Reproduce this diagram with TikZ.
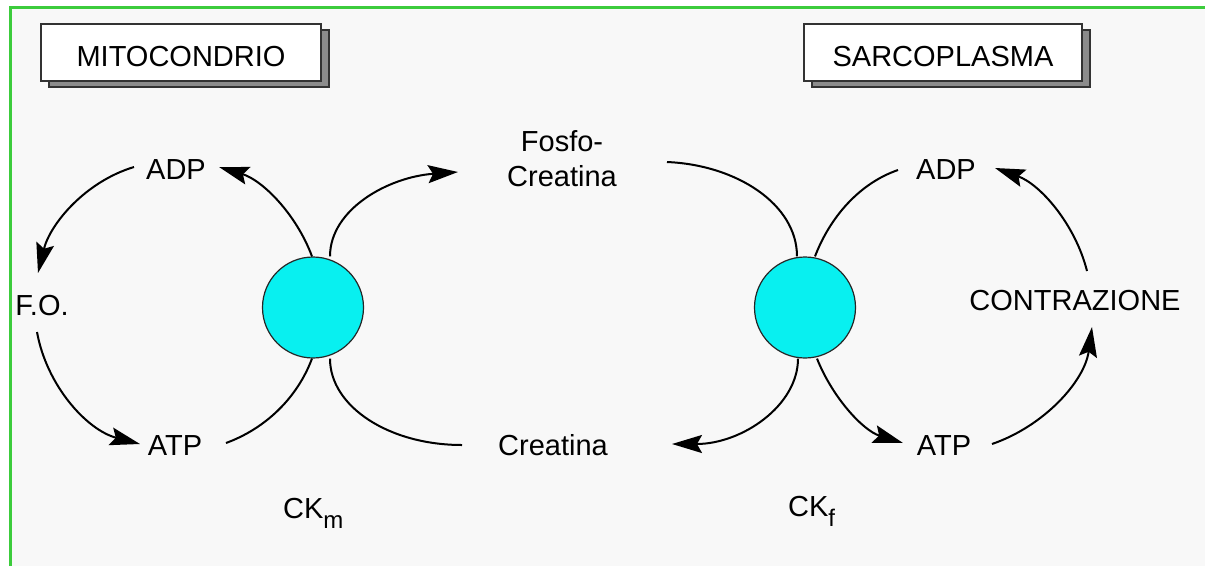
\documentclass[tikz,border=0pt]{standalone}
\usepackage{fontspec}
\setmainfont{Liberation Sans}
\usetikzlibrary{arrows.meta,shadows}
\definecolor{framegreen}{RGB}{60,204,60}
\definecolor{paper}{RGB}{248,248,248}
\definecolor{enzyme}{RGB}{8,240,240}
\tikzset{
  flowhead/.tip={Stealth[length=30pt,width=18pt,inset=5pt]}
}
\begin{document}
\begin{tikzpicture}[x=1pt,y=-1pt,
  lbl/.style={inner sep=0pt, font=\fontsize{29}{35}\selectfont},
  titlebox/.style={draw=black!80, line width=1.5pt, fill=white,
    minimum width=280pt, minimum height=57pt, inner sep=0pt,
    text height=27pt, text depth=0pt,
    font=\fontsize{29}{35}\selectfont,
    copy shadow={shadow xshift=8pt, shadow yshift=-6pt,
      fill=black!45, draw=black!80, line width=1.5pt}},
  enz/.style={circle, draw=black!85, line width=1.2pt, fill=enzyme,
    minimum size=101pt, inner sep=0pt},
  flow/.style={line width=2pt, draw=black},
  tip/.style={flow, -flowhead}
]
\useasboundingbox (0,0) rectangle (1205,566);
% page and frame
\fill[white] (0,0) rectangle (1205,566);
\fill[paper] (10,7) rectangle (1205,566);
\draw[framegreen, line width=3pt] (10.5,566) -- (10.5,7.5) -- (1205,7.5);

% compartment titles
\node[titlebox] (mito)  at (181,52.5) {MITOCONDRIO};
\node[titlebox, minimum width=278pt] (sarco) at (943,52.5) {SARCOPLASMA};

% enzymes
\node[enz] (ckm) at (313,307.5) {};
\node[enz] (ckf) at (805,307.5) {};

% metabolites
\node[lbl, anchor=base] (adpL)  at (176,179) {ADP};
\node[lbl, anchor=base] (fo)    at (42,315)  {F.O.};
\node[lbl, anchor=base] (atpL)  at (175,455) {ATP};
\node[lbl, anchor=center, align=center] (fosfo) at (562,158.5) {Fosfo-\\Creatina};
\node[lbl, anchor=base] (creat) at (553,455) {Creatina};
\node[lbl, anchor=base] (adpR)  at (946,179) {ADP};
\node[lbl, anchor=base] (atpR)  at (944,455) {ATP};
\node[lbl, anchor=base] (contr) at (1075,310) {CONTRAZIONE};

% enzyme names
\node[lbl, anchor=base west] (ckmlab) at (283,518) {CK\raisebox{-10pt}{\fontsize{24}{24}\selectfont m}};
\node[lbl, anchor=base west] (ckflab) at (788,516) {CK\raisebox{-10pt}{\fontsize{24}{24}\selectfont f}};

% mitochondrial cycle
\draw[tip] ([xshift=-1pt]ckm.north) .. controls +(-16,-43) and +(43,13) .. ([shift={(43,-12)}]adpL.base);
\draw[tip] ([shift={(-42,-12)}]adpL.base) .. controls +(-48.6,14.6) and +(12.1,-49.2) .. ([shift={(-4,-42)}]fo.base);
\draw[tip] ([shift={(-5,17)}]fo.base) .. controls +(9.7,53.9) and +(-53,-13.9) .. ([shift={(-35,-11)}]atpL.base);
\draw[flow] ([xshift=-1pt]ckm.south) .. controls +(-14.8,39.4) and +(39.5,-14.5) .. ([shift={(51,-12)}]atpL.base);

% creatine shuttle
\draw[tip] ([xshift=17pt]ckm.north) .. controls +(0,-47) and +(-70,5) .. ([shift={(-104,13.5)}]fosfo.center);
\draw[flow] ([shift={(105,3.5)}]fosfo.center) .. controls +(70,3) and +(0,-52) .. ([xshift=-8pt]ckf.north);
\draw[flow] ([xshift=17pt]ckm.south) .. controls +(0,48) and +(-73,0) .. ([shift={(-91,-10)}]creat.base);
\draw[tip] ([xshift=-7pt]ckf.south) .. controls +(0,47) and +(70,0) .. ([shift={(119,-11)}]creat.base);

% sarcoplasmic cycle
\draw[flow] ([xshift=10pt]ckf.north) .. controls +(14.8,-38.7) and +(-39.1,13.5) .. ([shift={(-48,-9)}]adpR.base);
\draw[tip] ([shift={(12,-39)}]contr.base) .. controls +(-11.8,-46.7) and +(45.4,16.3) .. ([shift={(49,-11)}]adpR.base);
\draw[tip] ([shift={(48,-11)}]atpR.base) .. controls +(51.9,-17.8) and +(-7.4,54.4) .. ([shift={(17,17)}]contr.base);
\draw[tip] ([xshift=12pt]ckf.south) .. controls +(15.5,38.9) and +(-40,-12.4) .. ([shift={(-41,-12)}]atpR.base);
\end{tikzpicture}
\end{document}
